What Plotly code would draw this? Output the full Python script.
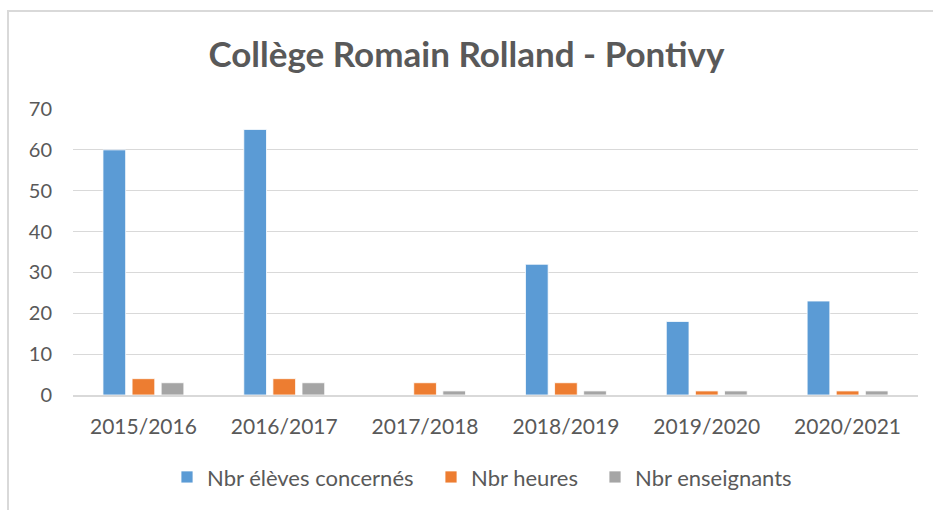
import plotly.graph_objects as go

categories = ["2015/2016", "2016/2017", "2017/2018", "2018/2019", "2019/2020", "2020/2021"]
eleves = [60, 65, 0, 32, 18, 23]
heures = [4, 4, 3, 3, 1, 1]
enseignants = [3, 3, 1, 1, 1, 1]

names = ["Nbr élèves concernés", "Nbr heures", "Nbr enseignants"]
colors = ["#5B9BD5", "#ED7D31", "#A5A5A5"]
legend_ids = ["legend", "legend2", "legend3"]
legend_px = [167, 431, 595]

W, H = 933, 510
L, T = 73, 109
R = W - 918
B = H - 398
pw = W - L - R
ph = H - T - B

fig = go.Figure()
for name, vals, col, lid in zip(names, [eleves, heures, enseignants], colors, legend_ids):
    fig.add_trace(go.Bar(x=categories, y=vals, name=name, legend=lid,
                         marker=dict(color=col, line=dict(color="white", width=0.8))))

legend_common = dict(orientation="h", yanchor="middle", xanchor="left",
                     y=-(481 - 398) / ph, font=dict(size=22, color="#595959"),
                     itemwidth=30, bgcolor="rgba(0,0,0,0)", borderwidth=0)
legends = {lid: dict(legend_common, x=(px - L) / pw) for lid, px in zip(legend_ids, legend_px)}

fig.update_layout(
    width=W, height=H,
    margin=dict(l=L, r=R, t=T, b=B),
    paper_bgcolor="white", plot_bgcolor="white",
    font=dict(family="Lato, Open Sans, sans-serif", color="#595959", size=20),
    title=dict(text="<b>Collège Romain Rolland - Pontivy</b>", x=0.5, xanchor="center",
               y=1 - 55 / H, yanchor="middle",
               font=dict(size=35, color="#595959", family="Lato, Open Sans, sans-serif")),
    barmode="group", bargap=0.38, bargroupgap=0.22,
    yaxis=dict(range=[0, 70], dtick=10, showgrid=True, gridcolor="#D9D9D9", gridwidth=1,
               zeroline=False, showline=False, ticks="", ticklabelstandoff=20,
               tickfont=dict(size=20, color="#595959")),
    xaxis=dict(showline=True, linecolor="#D9D9D9", linewidth=1.5, ticks="outside",
               ticklen=12, tickcolor="rgba(0,0,0,0)",
               tickfont=dict(size=21, color="#595959")),
    showlegend=True,
    **legends,
)

fig.add_shape(type="rect", xref="paper", yref="paper",
              x0=(8 - L) / pw, x1=1.2, y0=-1.0, y1=(398 - 10) / ph,
              line=dict(color="#D9D9D9", width=2), fillcolor="rgba(0,0,0,0)", layer="below")

fig.write_html("out.html", config={"displayModeBar": False},
               post_script="document.body.style.margin='0';document.body.style.overflow='hidden';")
